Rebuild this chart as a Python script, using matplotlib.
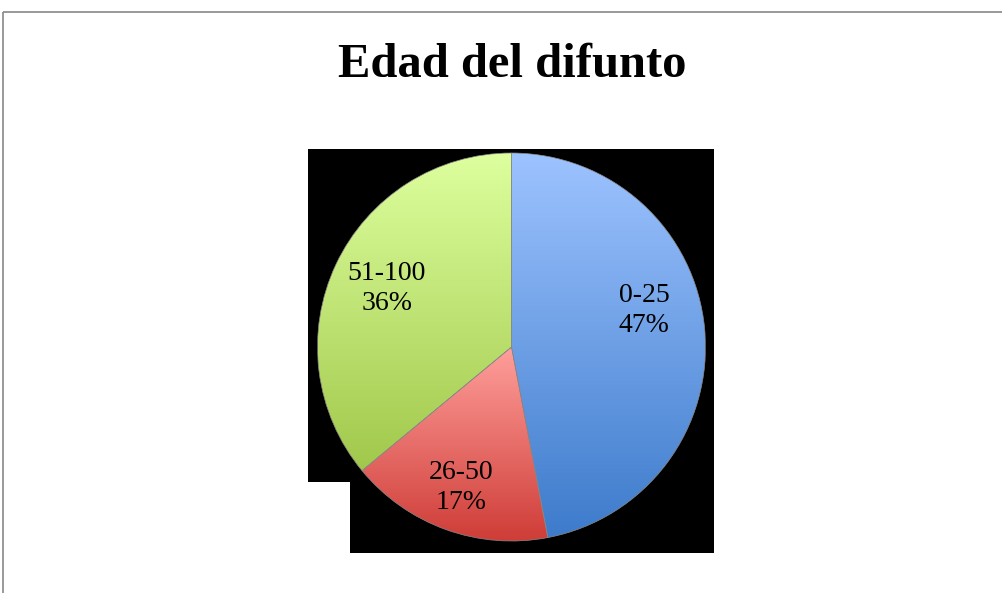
import matplotlib.pyplot as plt
import numpy as np
from matplotlib.colors import LinearSegmentedColormap
from matplotlib.patches import Polygon, Rectangle

plt.rcParams['font.family'] = ['Liberation Serif', 'DejaVu Serif']

labels = ['0-25', '26-50', '51-100']
values = [47, 17, 36]
# top / bottom colours of each slice's vertical gradient
grad_top = ['#9dc3ff', '#ff9f9b', '#ddff9e']
grad_bottom = ['#3d7bcb', '#ce3b36', '#a1c84b']
label_r = [0.71, 0.77, 0.71]
label_tilt = [10, 0, 0]

W, H = 1003, 593
fig = plt.figure(figsize=(W / 100, H / 100), dpi=100)
fig.patch.set_facecolor('white')

def px(x, y):
    return (x / W, 1 - y / H)

# chart frame (runs off the right and bottom edges)
fig.patches.append(Rectangle(px(3, 12), 1.0, -1.0, transform=fig.transFigure,
                             fill=False, edgecolor='#878787', linewidth=1.2,
                             zorder=-2))

# dark plot-area backdrop
backdrop = [(308, 149), (714, 149), (714, 553), (350, 553), (350, 482), (308, 482)]
fig.patches.append(Polygon([px(x, y) for x, y in backdrop], closed=True,
                           transform=fig.transFigure, facecolor='black',
                           edgecolor='none', zorder=-1))

fig.text(512 / W, 1 - 65 / H, 'Edad del difunto', ha='center', va='center',
         fontsize=35, fontweight='bold')

ax = fig.add_axes([317.5 / W, (H - 541) / H, 388 / W, 388 / H])
ax.patch.set_alpha(0)
wedges, _ = ax.pie(values, startangle=90, counterclock=False, radius=1,
                   wedgeprops=dict(facecolor='none', edgecolor='#8a8a8a', linewidth=0.5))

for w, c0, c1 in zip(wedges, grad_top, grad_bottom):
    verts = w.get_patch_transform().transform(w.get_path().vertices)
    x0, y0 = verts.min(axis=0)
    x1, y1 = verts.max(axis=0)
    cmap = LinearSegmentedColormap.from_list('g', [c1, c0])
    grad = np.linspace(0, 1, 256).reshape(-1, 1)
    im = ax.imshow(grad, cmap=cmap, extent=(x0, x1, y0, y1), origin='lower',
                   aspect='auto', zorder=1, interpolation='bilinear')
    im.set_clip_path(w)
    w.set_zorder(2)

ax.set_xlim(-1, 1)
ax.set_ylim(-1, 1)
ax.set_aspect('equal')
ax.axis('off')

for w, lab, v, r, tilt in zip(wedges, labels, values, label_r, label_tilt):
    mid = np.deg2rad((w.theta1 + w.theta2) / 2 + tilt)
    ax.text(r * np.cos(mid), r * np.sin(mid), f'{lab}\n{v}%', ha='center',
            va='center', fontsize=20, linespacing=1.25, zorder=3)

fig.savefig('out.png', dpi=100, facecolor='white')
